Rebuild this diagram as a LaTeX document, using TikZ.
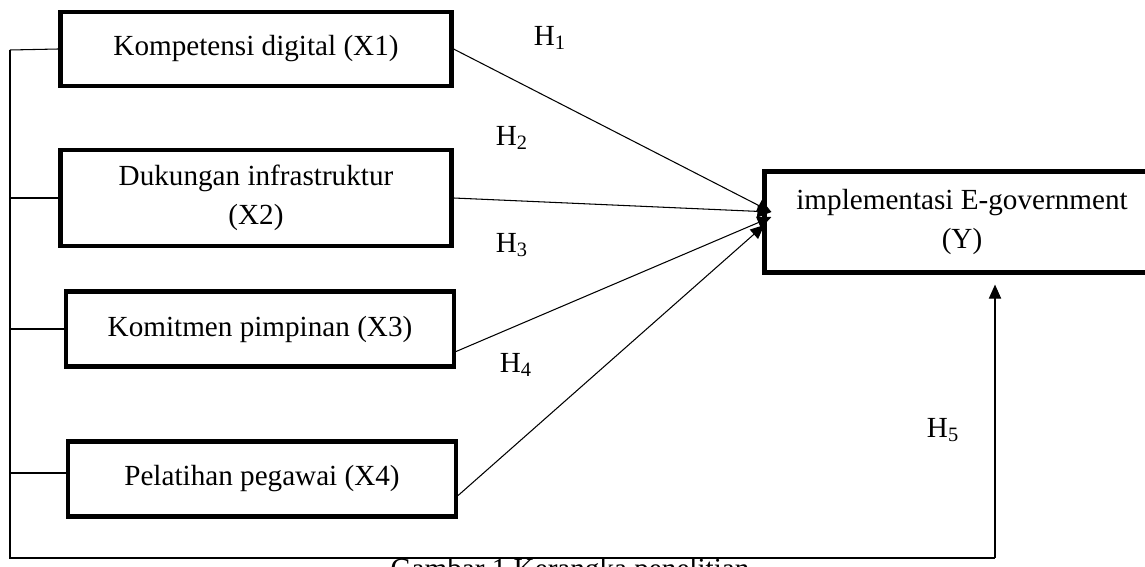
\documentclass[tikz,border=0pt]{standalone}
\usepackage{fontspec}
\setmainfont{Liberation Serif}
\usetikzlibrary{arrows.meta}
\tikzset{%
  varbox/.style  = {shape=rectangle, draw, line width=0.085cm, align=center,%
                    inner sep=2pt, minimum height=1.5cm},%
  hyplabel/.style = {inner sep=0pt},%
  link/.style    = {line width=0.6pt, -{Triangle[length=8pt,width=7pt]}},%
  bus/.style     = {line width=0.6pt}%
}

\begin{document}
\begin{tikzpicture}[x=0.02cm, y=-0.02cm, every node/.style = {font=\fontsize{16.6}{22.5}\selectfont}]%
	\useasboundingbox (0,0) rectangle (1145,567);%
		\node[varbox, minimum width=7.82cm, minimum height=1.48cm] (x1) at (256,49) {Kompetensi digital (X1)};%
		\node[varbox, minimum width=7.82cm, minimum height=1.92cm] (x2) at (256,198) {Dukungan infrastruktur\\(X2)};%
		\node[varbox, minimum width=7.76cm, minimum height=1.5cm] (x3) at (260,329) {Komitmen pimpinan (X3)};%
		\node[varbox, minimum width=7.76cm, minimum height=1.5cm] (x4) at (262,479) {Pelatihan pegawai (X4)};%
		\node[varbox, minimum width=7.9cm, minimum height=2.02cm] (y) at (962,222) {implementasi E-government\\(Y)};%
		\coordinate (bustop) at (10,50);%
		\coordinate (busend) at (10,558);%
		\coordinate (turn) at (995,558);%
		\coordinate (ybelow) at ([yshift=-0.2cm]y.south);%
		\coordinate (hub) at ([xshift=0.18cm, yshift=0.2cm]y.west);%
		\coordinate (hubl) at ([xshift=0.04cm, yshift=-0.06cm]y.west);%
		\draw[link] (x1.east) -- (hub);%
		\draw[link] (x2.east) -- (hub);%
		\draw[link] ([yshift=-0.45cm]x3.east) -- ([yshift=-0.1cm]hub);%
		\draw[link] ([yshift=-0.33cm]x4.east) -- (hubl);%
		\draw[bus] (bustop) -- (busend) -- (turn);%
		\draw[link] (turn) -- (turn |- ybelow);%
		\draw[bus] (bustop) -- (x1.west);%
		\draw[bus] (x2.west -| busend) -- (x2.west);%
		\draw[bus] (x3.west -| busend) -- (x3.west);%
		\draw[bus] ([yshift=0.12cm]x4.west -| busend) -- ([yshift=0.12cm]x4.west);%
		\node[hyplabel] (h1) at (550,38) {H\textsubscript{1}};%
		\node[hyplabel] (h2) at (512,138) {H\textsubscript{2}};%
		\node[hyplabel] (h3) at (512,245) {H\textsubscript{3}};%
		\node[hyplabel] (h4) at (516,365) {H\textsubscript{4}};%
		\node[hyplabel] (h5) at (943,430) {H\textsubscript{5}};%
		\node[anchor=base, inner sep=0pt] (caption) at (570,578) {Gambar 1 Kerangka penelitian};%
	\end{tikzpicture}
\end{document}
